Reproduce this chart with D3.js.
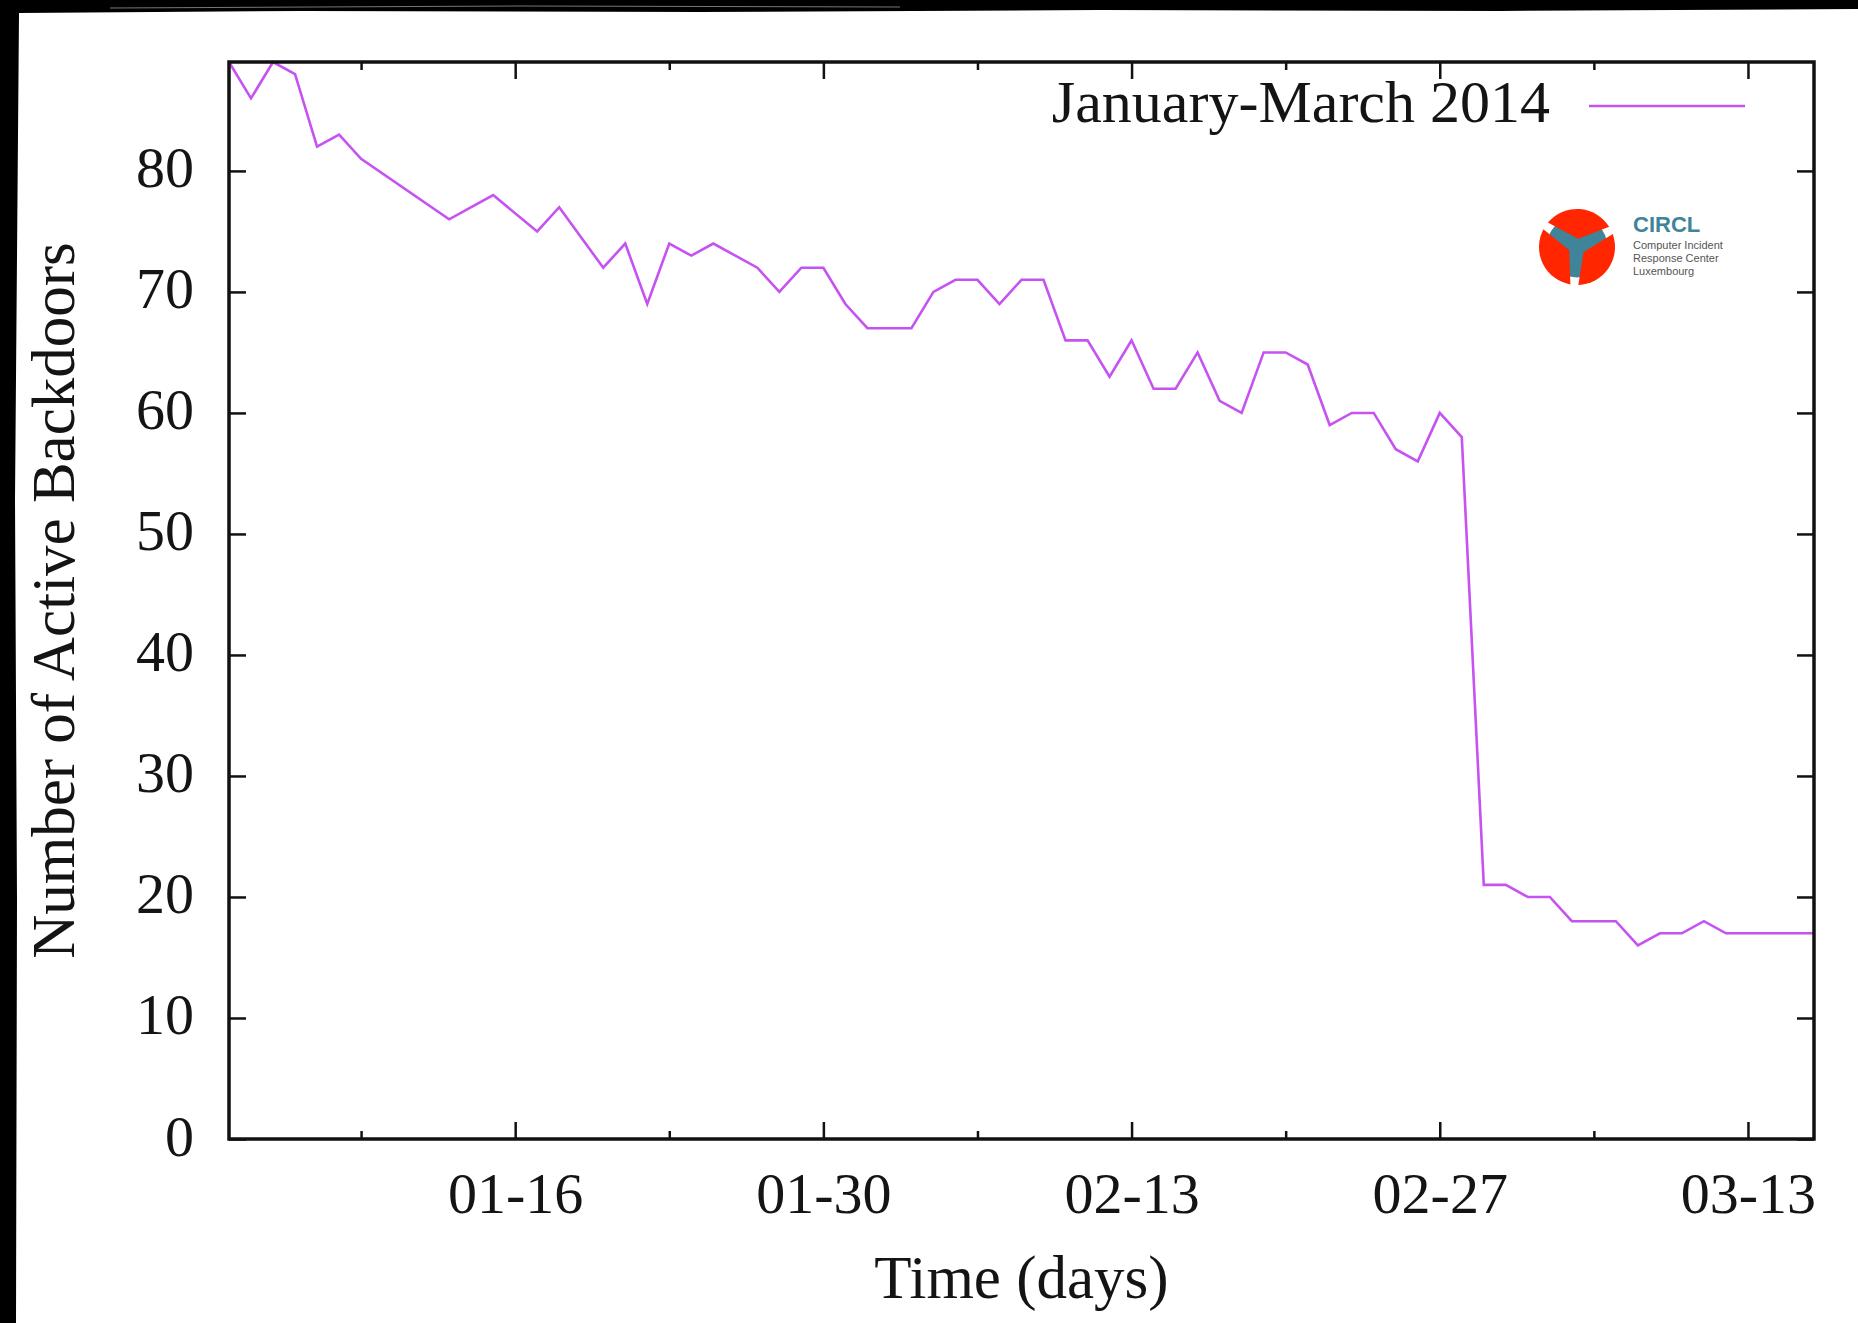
<!DOCTYPE html>
<html>
<head>
<meta charset="utf-8">
<script src="https://cdn.jsdelivr.net/npm/d3@7"></script>
<style>
    body { margin: 0; background: #000; }
    svg { display: block; }
    text { font-family: "Liberation Serif", "Times New Roman", serif; fill: #141414; }
</style>
</head>
<body>
<div id="chart"></div>
<script>

// data (days without a visible vertex are left out)
var days = ["01-03", "01-04", "01-05", "01-06", "01-07", "01-08", "01-09", "01-13", "01-15", "01-17",
    "01-18", "01-20", "01-21", "01-22", "01-23", "01-24", "01-25", "01-27", "01-28", "01-29",
    "01-30", "01-31", "02-01", "02-03", "02-04", "02-05", "02-06", "02-07", "02-08", "02-09",
    "02-10", "02-11", "02-12", "02-13", "02-14", "02-15", "02-16", "02-17", "02-18", "02-19",
    "02-20", "02-21", "02-22", "02-23", "02-24", "02-25", "02-26", "02-27", "02-28", "03-01",
    "03-02", "03-03", "03-04", "03-05", "03-07", "03-08", "03-09", "03-10", "03-11", "03-12",
    "03-16"];

var backdoors = [89, 86, 89, 88, 82, 83, 81, 76, 78, 75,
    77, 72, 74, 69, 74, 73, 74, 72, 70, 72,
    72, 69, 67, 67, 70, 71, 71, 69, 71, 71,
    66, 66, 63, 66, 62, 62, 65, 61, 60, 65,
    65, 64, 59, 60, 60, 57, 56, 60, 58, 21,
    21, 20, 20, 18, 18, 16, 17, 17, 18, 17,
    17];

var xRange = ["01-03", "03-16"];
var xMajorTicks = ["01-16", "01-30", "02-13", "02-27", "03-13"];
var xMinorTicks = ["01-09", "01-23", "02-06", "02-20", "03-06"];
var yTicks = [0, 10, 20, 30, 40, 50, 60, 70, 80];
var yMax = 89;

var seriesName = "January-March 2014";
var xTitle = "Time (days)";
var yTitle = "Number of Active Backdoors";

var W = 1858, H = 1323;
var margin = { top: 62, right: 44, bottom: 184, left: 229 };
var width = W - margin.left - margin.right,
    height = H - margin.top - margin.bottom;

var parse = d3.utcParse("%Y-%m-%d");
function toDate(s) { return parse("2014-" + s); }

var data = days.map(function (d, i) {
    return { date: toDate(d), value: backdoors[i] };
});

var svg = d3.select("#chart").append("svg")
    .attr("width", W)
    .attr("height", H);

// white paper inside the dark frame of the photo
svg.append("rect").attr("width", W).attr("height", H).attr("fill", "#000");
svg.append("path")
    .attr("d", "M19,13 L300,11 L700,12 L1100,10 L1500,11 L1858,9 L1858,1323 L16,1323 L17,900 L15,500 Z")
    .attr("fill", "#fff");
svg.append("path")
    .attr("d", "M110,8 L520,6 L900,7")
    .attr("stroke", "#777").attr("stroke-width", 1).attr("fill", "none");

var x = d3.scaleUtc()
    .domain(xRange.map(toDate))
    .range([0, width]);

var y = d3.scaleLinear()
    .domain([0, yMax])
    .range([height, 0]);

var g = svg.append("g")
    .attr("transform", "translate(" + margin.left + "," + margin.top + ")");

g.append("clipPath").attr("id", "clip")
    .append("rect").attr("x", 0).attr("y", -2).attr("width", width).attr("height", height + 2);

// ticks, all pointing inwards
var fmt = d3.utcFormat("%m-%d");

var bottomMajor = g.append("g")
    .attr("transform", "translate(0," + height + ")")
    .call(d3.axisBottom(x).tickValues(xMajorTicks.map(toDate)).tickSizeInner(-17).tickSizeOuter(0).tickFormat(fmt));

bottomMajor.selectAll("text")
    .attr("y", 74)
    .attr("dy", 0)
    .style("font-size", "58px");

g.append("g")
    .attr("transform", "translate(0," + height + ")")
    .call(d3.axisBottom(x).tickValues(xMinorTicks.map(toDate)).tickSizeInner(-8).tickSizeOuter(0).tickFormat(""));

g.append("g")
    .call(d3.axisTop(x).tickValues(xMajorTicks.map(toDate)).tickSizeInner(-17).tickSizeOuter(0).tickFormat(""));

g.append("g")
    .call(d3.axisTop(x).tickValues(xMinorTicks.map(toDate)).tickSizeInner(-8).tickSizeOuter(0).tickFormat(""));

var left = g.append("g")
    .call(d3.axisLeft(y).tickValues(yTicks).tickSizeInner(-17).tickSizeOuter(0));

left.selectAll("text")
    .attr("x", -35)
    .attr("dy", 0)
    .attr("y", 16)
    .style("font-size", "58px");

g.append("g")
    .attr("transform", "translate(" + width + ",0)")
    .call(d3.axisRight(y).tickValues(yTicks).tickSizeInner(-17).tickSizeOuter(0).tickFormat(""));

g.selectAll(".domain").remove();
g.selectAll(".tick line").attr("stroke", "#111").attr("stroke-width", 2.5);
g.selectAll(".tick text").attr("fill", "#141414").style("font-family", "Liberation Serif, serif");

// the series
var line = d3.line()
    .x(function (d) { return x(d.date); })
    .y(function (d) { return y(d.value); });

g.append("path")
    .datum(data)
    .attr("clip-path", "url(#clip)")
    .attr("fill", "none")
    .attr("stroke", "#c652f2")
    .attr("stroke-width", 2.6)
    .attr("stroke-linejoin", "miter")
    .attr("d", line);

// frame
g.append("rect")
    .attr("width", width)
    .attr("height", height)
    .attr("fill", "none")
    .attr("stroke", "#111")
    .attr("stroke-width", 3.5);

// key
g.append("text")
    .attr("x", 1550 - margin.left)
    .attr("y", 122 - margin.top)
    .attr("text-anchor", "end")
    .style("font-size", "60px")
    .text(seriesName);

g.append("line")
    .attr("x1", 1589 - margin.left)
    .attr("x2", 1745 - margin.left)
    .attr("y1", 106 - margin.top)
    .attr("y2", 106 - margin.top)
    .attr("stroke", "#c652f2")
    .attr("stroke-width", 2.6);

// axis titles
svg.append("text")
    .attr("x", margin.left + width / 2)
    .attr("y", 1298)
    .attr("text-anchor", "middle")
    .style("font-size", "61px")
    .text(xTitle);

svg.append("text")
    .attr("transform", "translate(74," + (margin.top + height / 2) + ") rotate(-90)")
    .attr("text-anchor", "middle")
    .style("font-size", "61px")
    .text(yTitle);

// CIRCL logo (shutter of three red blades over a teal disc)
var logo = svg.append("g").attr("transform", "translate(1577,247)");
var r = 38;
function polar(rad, deg) {
    var a = deg * Math.PI / 180;
    return [rad * Math.sin(a), -rad * Math.cos(a)];
}

logo.append("circle").attr("r", r * 0.8).attr("fill", "#3f8499");

[-50, 70, 190].forEach(function (s) {
    var e = s + 108,
        p0 = polar(r, s),
        p1 = polar(r, e),
        q = polar(r * 0.22, e - 50);
    logo.append("path")
        .attr("d", "M" + p0 + " A" + r + "," + r + " 0 0 1 " + p1 + " L" + q + " Z")
        .attr("fill", "#ff2600");
});

var logoText = svg.append("g").attr("transform", "translate(1633,0)");
logoText.append("text")
    .attr("y", 232)
    .style("font-family", "Liberation Sans, Arial, sans-serif")
    .style("font-weight", "bold")
    .style("font-size", "22px")
    .style("fill", "#3f8499")
    .text("CIRCL");

["Computer Incident", "Response Center", "Luxembourg"].forEach(function (t, i) {
    logoText.append("text")
        .attr("y", 249 + i * 13)
        .style("font-family", "Liberation Sans, Arial, sans-serif")
        .style("font-size", "11px")
        .style("fill", "#555")
        .text(t);
});

</script>
</body>
</html>
